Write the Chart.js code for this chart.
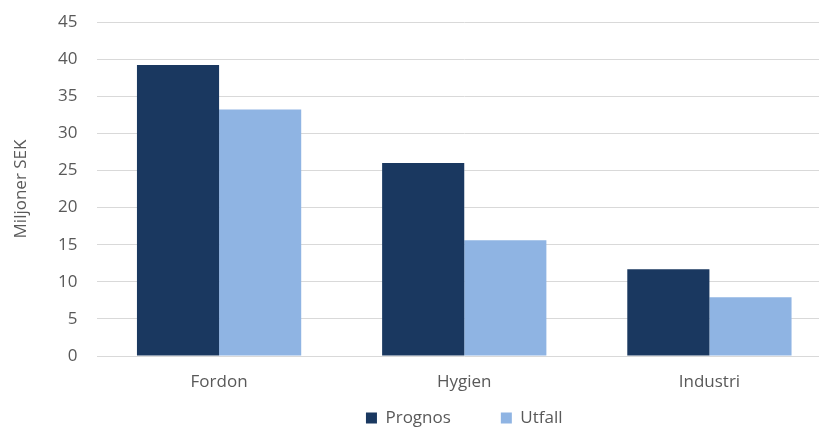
<!DOCTYPE html>
<html>
<head>
<meta charset="utf-8">
<script src="https://cdn.jsdelivr.net/npm/chart.js@4"></script>
<style>
  html, body { margin: 0; padding: 0; background: #fff; }
  #wrap { width: 819px; height: 428px; overflow: hidden; }
</style>
</head>
<body>
<div id="wrap"><canvas id="chart" width="840" height="428"></canvas></div>
<script>
'use strict';

/* ── Data ── */
const categories = ['Fordon', 'Hygien', 'Industri'];
const prognos    = [39.2, 26.0, 11.7];
const utfall     = [33.2, 15.6, 7.9];
const yTicks     = [0, 5, 10, 15, 20, 25, 30, 35, 40, 45];

/* ── Theme ── */
const C = {
  dark:  '#1A3860',
  light: '#8FB4E3',
  grid:  '#D9D9D9',
  text:  '#595959',
};
const FONT = { family: "'Open Sans', sans-serif", size: 17 };

new Chart(document.getElementById('chart'), {
  type: 'bar',
  data: {
    labels: categories,
    datasets: [
      { label: 'Prognos', data: prognos, backgroundColor: C.dark },
      { label: 'Utfall',  data: utfall,  backgroundColor: C.light },
    ],
  },
  options: {
    responsive: false,
    animation: false,
    devicePixelRatio: 1,
    layout: { padding: { top: 22, right: 8, bottom: -8.5, left: 0 } },
    datasets: { bar: { categoryPercentage: 0.67, barPercentage: 1, borderWidth: 0 } },
    plugins: {
      tooltip: { enabled: false },
      legend: {
        position: 'bottom',
        fullSize: false,
        labels: {
          color: C.text,
          font: FONT,
          boxWidth: 11,
          boxHeight: 11,
          padding: 50,
        },
      },
    },
    scales: {
      x: {
        grid: { display: false, drawTicks: false },
        border: { display: false },
        // mirrored labels are not clipped to the thin axis box; negative padding pushes them below
        ticks: { color: C.text, font: FONT, padding: -36, mirror: true },
        afterFit: (s) => { s.height = 3.5; },
      },
      y: {
        min: 0,
        max: 45,
        afterBuildTicks: (s) => { s.ticks = yTicks.map(v => ({ value: v })); },
        grid: { color: C.grid, lineWidth: 1, drawTicks: true, tickLength: 19, tickColor: 'rgba(0,0,0,0)' },
        border: { display: false },
        ticks: { color: C.text, font: FONT, padding: 0 },
        title: {
          display: true,
          text: 'Miljoner SEK',
          color: C.text,
          font: FONT,
          padding: { top: 11, bottom: 0 },
        },
        afterFit: (s) => { s.width = 96.5; },
      },
    },
  },
});
</script>
</body>
</html>
